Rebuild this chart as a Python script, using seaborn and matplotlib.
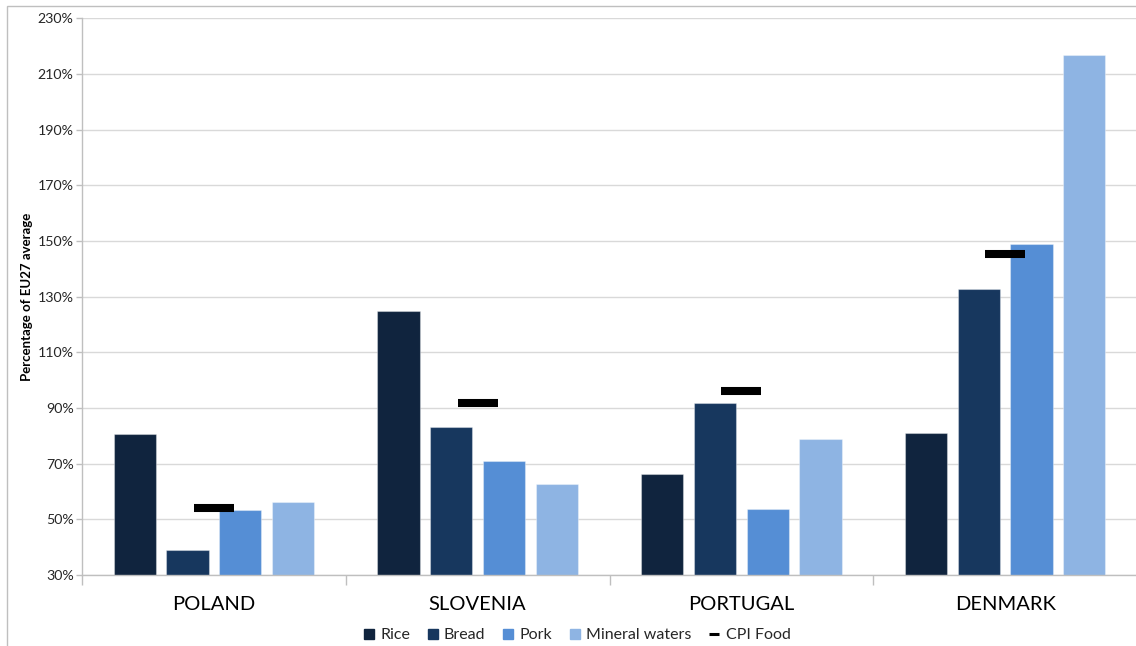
import matplotlib
matplotlib.use("Agg")
import matplotlib.pyplot as plt
from matplotlib.lines import Line2D
from matplotlib.patches import Rectangle
from matplotlib.ticker import FuncFormatter, FixedLocator
import seaborn as sns
import pandas as pd

# Price levels relative to the EU27 average (%)
countries = ["POLAND", "SLOVENIA", "PORTUGAL", "DENMARK"]
products = ["Rice", "Bread", "Pork", "Mineral waters"]
rice = [80.5, 124.8, 66.4, 80.9]
bread = [39.0, 83.0, 91.8, 132.7]
pork = [53.4, 70.8, 53.8, 148.9]
mineral_waters = [56.3, 62.8, 78.7, 216.7]
cpi_food = [53.9, 91.7, 96.1, 145.2]
y_ticks = [30, 50, 70, 90, 110, 130, 150, 170, 190, 210, 230]

colors = ["#10243E", "#17375E", "#558ED5", "#8EB4E3"]

df = pd.DataFrame({
    "country": countries * 4,
    "product": [p for p in products for _ in countries],
    "value": rice + bread + pork + mineral_waters,
})
cpi_df = pd.DataFrame({"country": countries, "cpi": cpi_food})

sns.set_theme(style="white")
plt.rcParams["font.family"] = ["Lato", "DejaVu Sans"]

W, H = 1136, 646
AX_L, AX_R, AX_T, AX_B = 82, 1137, 18.3, 575
fig = plt.figure(figsize=(W / 100, H / 100), dpi=100)
ax = fig.add_axes([AX_L / W, 1 - AX_B / H, (AX_R - AX_L) / W, (AX_B - AX_T) / H])

sns.barplot(data=df, x="country", y="value", hue="product", order=countries,
            hue_order=products, palette=colors, width=0.8, gap=0.2,
            saturation=1, edgecolor=(1, 1, 1, 0.35), linewidth=0.8,
            bottom=0, ax=ax, legend=False, zorder=2)

sns.scatterplot(data=cpi_df, x="country", y="cpi", marker="_", s=29 ** 2,
                linewidth=5.8, color="black", ax=ax, legend=False, zorder=3)

ax.set_ylim(30, 230)
ax.set_xlim(-0.5, 3.5)
ax.yaxis.set_major_locator(FixedLocator(y_ticks))
ax.yaxis.set_major_formatter(FuncFormatter(lambda v, _: f"{v:.0f}%"))
ax.grid(axis="y", color="#D9D9D9", linewidth=1.0, zorder=0)
ax.set_axisbelow(True)

for s in ["top", "right"]:
    ax.spines[s].set_visible(False)
for s in ["left", "bottom"]:
    ax.spines[s].set_color("#BFBFBF")
    ax.spines[s].set_linewidth(1.0)

ax.tick_params(axis="y", which="major", left=True, length=4, width=1,
               color="#BFBFBF", pad=2, labelsize=10.2, labelcolor="#262626")
ax.tick_params(axis="x", which="major", length=0, pad=15, labelsize=14.5,
               labelcolor="#000000")
ax.set_xticks([-0.5, 0.5, 1.5, 2.5, 3.5], minor=True)
ax.tick_params(axis="x", which="minor", bottom=True, length=7, width=1,
               color="#BFBFBF")

ax.set_xlabel("")
ax.set_ylabel("Percentage of EU27 average", fontsize=9.5, fontweight="bold",
              color="#000000")
ax.yaxis.set_label_coords(-(AX_L - 33) / (AX_R - AX_L), 0.5)

# Outer chart frame
fig.patches.append(Rectangle((7 / W, -0.1), 1.2, 1 - 6 / H + 0.1,
                             transform=fig.transFigure, fill=False,
                             edgecolor="#BFBFBF", linewidth=1.0))

handles = [Line2D([], [], linestyle="none", marker="s", markersize=7.2,
                  markerfacecolor=c, markeredgecolor=c) for c in colors]
handles.append(Line2D([], [], color="black", linewidth=2.2,
                      solid_capstyle="butt"))
leg = fig.legend(handles, products + ["CPI Food"], loc="center",
                 bbox_to_anchor=(577 / W, 1 - 635 / H), ncol=5, frameon=False,
                 fontsize=11.5, handlelength=0.63, handletextpad=0.4,
                 columnspacing=1.1, borderaxespad=0, borderpad=0)

fig.savefig("out.png", dpi=100, facecolor="white")
